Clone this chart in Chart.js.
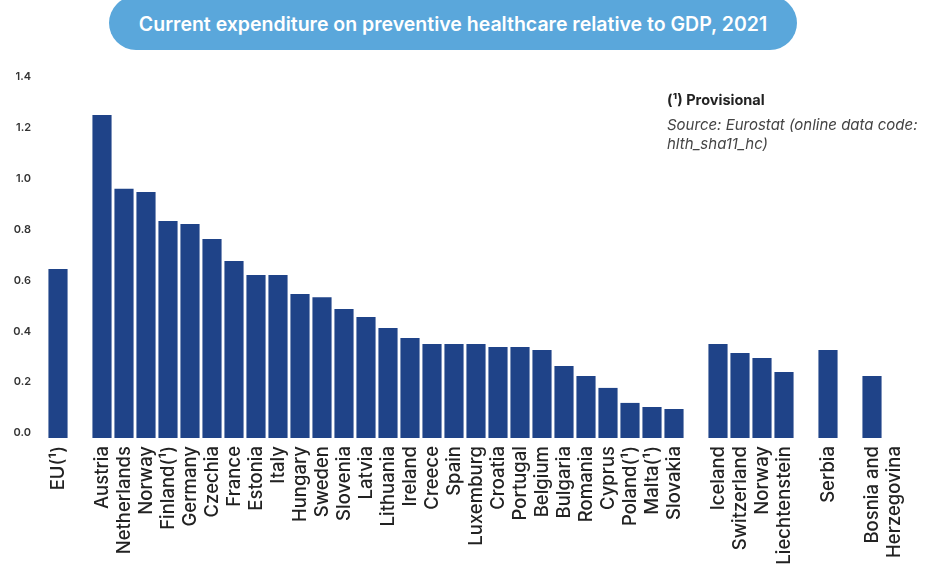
<!DOCTYPE html>
<html>
<head>
<meta charset="utf-8">
<script src="https://cdn.jsdelivr.net/npm/chart.js@4/dist/chart.umd.min.js"></script>
<style>
    html, body { margin: 0; padding: 0; background: #fff; }
    #wrap { position: relative; width: 930px; height: 570px; overflow: hidden; font-family: Inter, "Open Sans", sans-serif; }
    #chart { position: absolute; left: 0; top: 0; }
    .title-pill {
        position: absolute; left: 109px; top: -4px; width: 688px; height: 54px;
        background: #5aa7db; border-radius: 27px;
        color: #fff; font-weight: 600; font-size: 19.5px;
        display: flex; align-items: center; justify-content: center; padding-top: 2px; box-sizing: border-box;
    }
    .note { position: absolute; left: 667px; font-size: 15px; color: #222; white-space: nowrap; }
    .note.head { top: 91px; font-weight: 700; font-size: 14.5px; }
    .note.src { top: 115px; font-style: italic; color: #444; line-height: 19px; }
</style>
</head>
<body>
<div id="wrap">
    <canvas id="chart" width="930" height="570"></canvas>
    <div class="title-pill">Current expenditure on preventive healthcare relative to GDP, 2021</div>
    <div class="note head">(¹) Provisional</div>
    <div class="note src">Source: Eurostat (online data code:<br>hlth_sha11_hc)</div>
</div>
<script>
// empty strings keep the gaps between country groups
const countries = [
    'EU(¹)', '',
    'Austria', 'Netherlands', 'Norway', 'Finland(¹)', 'Germany', 'Czechia', 'France', 'Estonia', 'Italy',
    'Hungary', 'Sweden', 'Slovenia', 'Latvia', 'Lithuania', 'Ireland', 'Creece', 'Spain', 'Luxemburg',
    'Croatia', 'Portugal', 'Belgium', 'Bulgaria', 'Romania', 'Cyprus', 'Poland(¹)', 'Malta(¹)', 'Slovakia', '',
    'Iceland', 'Switzerland', 'Norway', 'Liechtenstein', '',
    'Serbia', '',
    ['Bosnia and', 'Herzegovina']
];
const shareOfGdp = [
    0.665, null,
    1.27, 0.98, 0.967, 0.853, 0.842, 0.783, 0.696, 0.641, 0.641,
    0.566, 0.554, 0.507, 0.476, 0.433, 0.393, 0.37, 0.37, 0.37,
    0.358, 0.358, 0.346, 0.283, 0.244, 0.197, 0.138, 0.122, 0.114, null,
    0.37, 0.334, 0.315, 0.26, null,
    0.346, null,
    0.244
];
const yTicks = [0, 0.2, 0.4, 0.6, 0.8, 1.0, 1.2, 1.4];

const barColor = '#1f4388';

new Chart(document.getElementById('chart'), {
    type: 'bar',
    data: {
        labels: countries,
        datasets: [{
            data: shareOfGdp,
            backgroundColor: barColor,
            categoryPercentage: 1,
            barPercentage: 0.87,
        }]
    },
    options: {
        responsive: false,
        animation: false,
        layout: { padding: { top: 82, right: 47, left: 0, bottom: 0 } },
        plugins: {
            legend: { display: false },
            tooltip: { enabled: false },
        },
        scales: {
            x: {
                grid: { display: false, drawTicks: false },
                border: { display: false },
                ticks: {
                    autoSkip: false,
                    minRotation: 90,
                    maxRotation: 90,
                    padding: 8,
                    color: '#222',
                    font: { family: 'Inter', size: 18.5, weight: 500, lineHeight: 1.2 },
                },
                afterFit: (scale) => { scale.height = 132; }
            },
            y: {
                min: 0,
                max: 1.4,
                grid: { display: false, drawTicks: false },
                border: { display: false },
                afterBuildTicks: (scale) => { scale.ticks = yTicks.map(v => ({ value: v })); },
                ticks: {
                    padding: 16,
                    labelOffset: -5,
                    color: '#333',
                    font: { family: 'Inter', size: 11, weight: 600 },
                    callback: (v) => v.toFixed(1),
                },
                afterFit: (scale) => { scale.width = 47; }
            }
        }
    }
});
</script>
</body>
</html>
